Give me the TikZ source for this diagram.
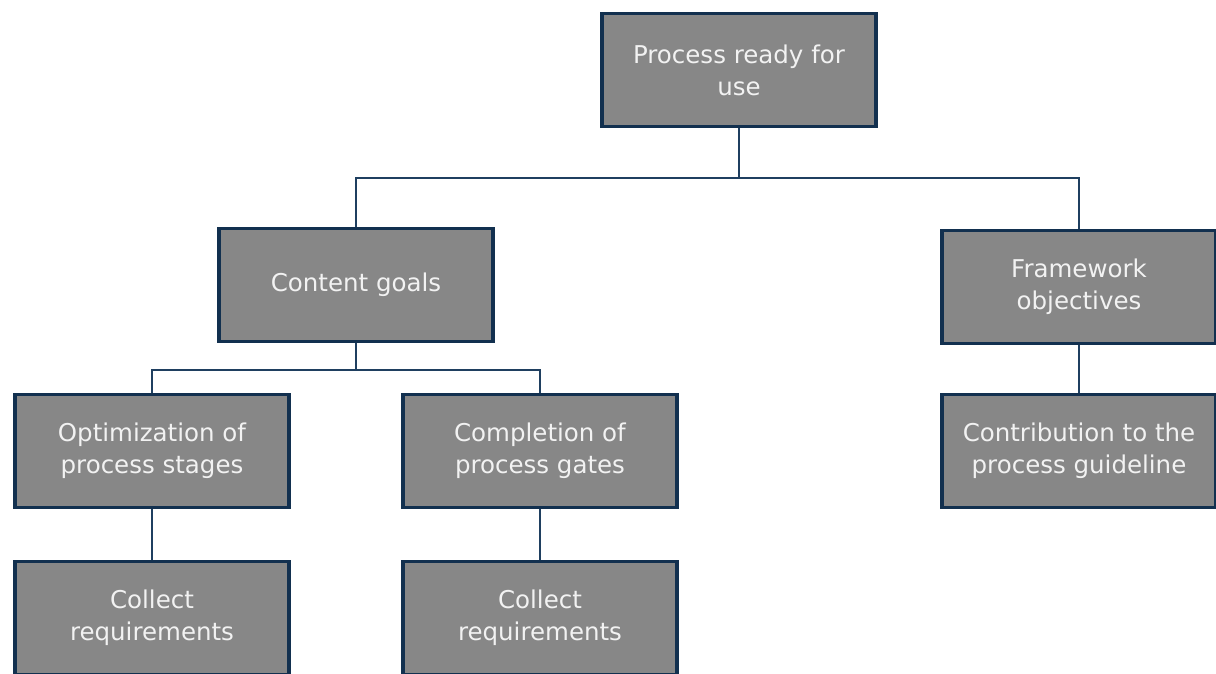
\documentclass[tikz,border=0pt]{standalone}
\usepackage{fontspec}
\setmainfont{DejaVu Sans}
\definecolor{boxfill}{HTML}{878787}
\definecolor{boxline}{HTML}{12304F}
\definecolor{connline}{HTML}{1F3F60}
\definecolor{boxtext}{HTML}{F2F2F2}
\begin{document}
\begin{tikzpicture}[x=1pt,y=1pt,
  box/.style={draw=boxline, line width=3.6pt, fill=boxfill, text=boxtext,
    minimum width=274pt, minimum height=113pt, inner sep=0pt,
    align=center, font=\fontsize{24.5}{32}\selectfont},
  conn/.style={draw=connline, line width=1.6pt}]
\useasboundingbox (0,0) rectangle (1216,-673);
\fill[white] (0,0) rectangle (1216,-673);

% boxes
\node[box] (top) at (739,-70) {Process ready for\\use};
\node[box] (cg)  at (356,-285) {Content goals};
\node[box] (fw)  at (1079,-287) {Framework\\objectives};
\node[box] (opt) at (152,-451) {Optimization of\\process stages};
\node[box] (cmp) at (540,-451) {Completion of\\process gates};
\node[box] (ctb) at (1079,-451) {Contribution to the\\process guideline};
\node[box] (cr1) at (152,-618) {Collect\\requirements};
\node[box] (cr2) at (540,-618) {Collect\\requirements};

% junction points of the tree
\coordinate (j1) at (739,-178);
\coordinate (j2) at (356,-370);

% connectors
\draw[conn] (top.south) -- (j1);
\draw[conn] (cg.north) |- (j1) -| (fw.north);
\draw[conn] (cg.south) -- (j2);
\draw[conn] (opt.north) |- (j2) -| (cmp.north);
\draw[conn] (fw.south) -- (ctb.north);
\draw[conn] (opt.south) -- (cr1.north);
\draw[conn] (cmp.south) -- (cr2.north);
\end{tikzpicture}
\end{document}
